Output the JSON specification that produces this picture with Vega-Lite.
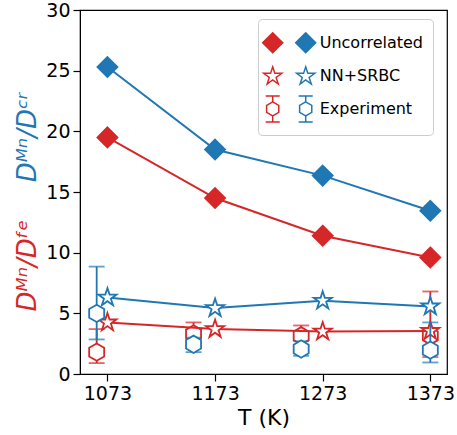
{
  "$schema": "https://vega.github.io/schema/vega-lite/v6.json",
  "width": 367,
  "height": 364,
  "autosize": "none",
  "padding": {"left": 80, "top": 10, "right": 10, "bottom": 61},
  "background": "white",
  "config": {
    "font": "DejaVu Sans",
    "view": {"stroke": "#000000", "strokeWidth": 1.2},
    "axis": {"grid": false, "domainColor": "#000000", "tickColor": "#000000", "tickSize": 7, "tickWidth": 1.2, "labelFont": "DejaVu Sans", "labelFontSize": 19, "labelColor": "#000000", "labelPadding": 3, "titleFont": "DejaVu Sans", "titleFontWeight": "normal"}
  },
  "datasets": {
    "calc": [
      {"T": 1073, "series": "Uncorrelated", "ratio": "Fe", "value": 19.5},
      {"T": 1173, "series": "Uncorrelated", "ratio": "Fe", "value": 14.5},
      {"T": 1273, "series": "Uncorrelated", "ratio": "Fe", "value": 11.4},
      {"T": 1373, "series": "Uncorrelated", "ratio": "Fe", "value": 9.6},
      {"T": 1073, "series": "NN+SRBC", "ratio": "Fe", "value": 4.25},
      {"T": 1173, "series": "NN+SRBC", "ratio": "Fe", "value": 3.7},
      {"T": 1273, "series": "NN+SRBC", "ratio": "Fe", "value": 3.5},
      {"T": 1373, "series": "NN+SRBC", "ratio": "Fe", "value": 3.55},
      {"T": 1073, "series": "Uncorrelated", "ratio": "Cr", "value": 25.3},
      {"T": 1173, "series": "Uncorrelated", "ratio": "Cr", "value": 18.5},
      {"T": 1273, "series": "Uncorrelated", "ratio": "Cr", "value": 16.35},
      {"T": 1373, "series": "Uncorrelated", "ratio": "Cr", "value": 13.45},
      {"T": 1073, "series": "NN+SRBC", "ratio": "Cr", "value": 6.3},
      {"T": 1173, "series": "NN+SRBC", "ratio": "Cr", "value": 5.43},
      {"T": 1273, "series": "NN+SRBC", "ratio": "Cr", "value": 6.04},
      {"T": 1373, "series": "NN+SRBC", "ratio": "Cr", "value": 5.57}
    ],
    "exp": [
      {"T": 1063, "ratio": "Fe", "value": 1.8, "lo": 0.9, "hi": 3.7},
      {"T": 1153, "ratio": "Fe", "value": 3.3, "lo": 2.5, "hi": 4.25},
      {"T": 1253, "ratio": "Fe", "value": 3.15, "lo": 2.3, "hi": 4.0},
      {"T": 1373, "ratio": "Fe", "value": 3.15, "lo": 1.4, "hi": 6.8},
      {"T": 1063, "ratio": "Cr", "value": 5.0, "lo": 2.85, "hi": 8.85},
      {"T": 1153, "ratio": "Cr", "value": 2.45, "lo": 1.8, "hi": 3.0},
      {"T": 1253, "ratio": "Cr", "value": 2.06, "lo": 1.5, "hi": 2.7},
      {"T": 1373, "ratio": "Cr", "value": 1.97, "lo": 0.95, "hi": 4.25}
    ]
  },
  "layer": [
    {
      "layer": [
        {
          "data": {"name": "exp"},
          "transform": [{"filter": "datum.ratio === 'Fe'"}],
          "mark": {"type": "rule", "color": "#d62728", "strokeWidth": 1.8},
          "encoding": {
            "x": {"field": "T", "type": "quantitative", "scale": {"domain": [1047.5, 1388.5], "nice": false, "zero": false}, "axis": {"values": [1073, 1173, 1273, 1373], "format": "d", "title": "T (K)", "titleFontSize": 22, "titleColor": "#000000", "titlePadding": 4}},
            "y": {"field": "lo", "type": "quantitative", "scale": {"domain": [0, 30], "nice": false, "zero": false}, "axis": {"orient": "left", "values": [0, 5, 10, 15, 20, 25, 30], "title": "Dᴹⁿ/Dᶠᵉ", "titleColor": "#d62728", "titleFontSize": 26, "titleFontStyle": "italic", "titleX": -45, "titleY": 255, "titleAngle": -90, "titleBaseline": "alphabetic", "titleAlign": "center"}},
            "y2": {"field": "hi"}
          }
        },
        {
          "data": {"name": "exp"},
          "transform": [{"filter": "datum.ratio === 'Fe'"}],
          "mark": {"type": "tick", "orient": "horizontal", "color": "#d62728", "size": 16, "thickness": 1.8},
          "encoding": {
            "x": {"field": "T", "type": "quantitative"},
            "y": {"field": "lo", "type": "quantitative"}
          }
        },
        {
          "data": {"name": "exp"},
          "transform": [{"filter": "datum.ratio === 'Fe'"}],
          "mark": {"type": "tick", "orient": "horizontal", "color": "#d62728", "size": 16, "thickness": 1.8},
          "encoding": {
            "x": {"field": "T", "type": "quantitative"},
            "y": {"field": "hi", "type": "quantitative"}
          }
        },
        {
          "data": {"name": "exp"},
          "transform": [{"filter": "datum.ratio === 'Fe'"}],
          "mark": {"type": "point", "filled": true, "fill": "white", "stroke": "#d62728", "strokeWidth": 1.8, "opacity": 1, "size": 300, "shape": "M0,-1L0.866,-0.5L0.866,0.5L0,1L-0.866,0.5L-0.866,-0.5Z"},
          "encoding": {
            "x": {"field": "T", "type": "quantitative"},
            "y": {"field": "value", "type": "quantitative"}
          }
        },
        {
          "data": {"name": "calc"},
          "transform": [{"filter": "datum.ratio === 'Fe'"}],
          "mark": {"type": "line", "color": "#d62728", "strokeWidth": 2},
          "encoding": {
            "x": {"field": "T", "type": "quantitative"},
            "y": {"field": "value", "type": "quantitative"},
            "detail": {"field": "series", "type": "nominal"}
          }
        },
        {
          "data": {"name": "calc"},
          "transform": [{"filter": "datum.ratio === 'Fe'"}],
          "mark": {"type": "point", "filled": true, "stroke": "#d62728", "strokeWidth": 1.8, "opacity": 1, "size": 676},
          "encoding": {
            "x": {"field": "T", "type": "quantitative"},
            "y": {"field": "value", "type": "quantitative"},
            "shape": {"field": "series", "type": "nominal", "scale": {"domain": ["Uncorrelated", "NN+SRBC", "Experiment"], "range": ["M0,-0.77L0.77,0L0,0.77L-0.77,0Z", "M0,-0.73L0.164,-0.226L0.694,-0.226L0.265,0.086L0.429,0.591L0,0.279L-0.429,0.591L-0.265,0.086L-0.694,-0.226L-0.164,-0.226Z", "M0,-0.54L0.468,-0.27L0.468,0.27L0,0.54L-0.468,0.27L-0.468,-0.27Z M0,-0.54L0,-1 M-0.54,-1L0.54,-1 M0,0.54L0,1 M-0.54,1L0.54,1"]},
              "legend": {"title": null, "orient": "none", "legendX": 178, "legendY": 9, "direction": "vertical", "padding": 9.7, "rowPadding": 5.6, "symbolSize": 676, "symbolOffset": -9, "labelColor": "#000000", "labelFontSize": 16, "labelFont": "DejaVu Sans", "labelOffset": 33, "strokeColor": "#cccccc", "fillColor": "white", "cornerRadius": 4,
                "encode": {"symbols": {"update": {"stroke": {"value": "#d62728"}, "strokeWidth": {"value": 1.8}, "opacity": {"value": 1}}}}}},
            "fill": {"field": "series", "type": "nominal", "scale": {"domain": ["Uncorrelated", "NN+SRBC", "Experiment"], "range": ["#d62728", "white", "white"]},
              "legend": {"title": null, "orient": "none", "legendX": 178, "legendY": 9, "direction": "vertical", "padding": 9.7, "rowPadding": 5.6, "symbolSize": 676, "symbolOffset": -9, "labelColor": "#000000", "labelFontSize": 16, "labelFont": "DejaVu Sans", "labelOffset": 33, "strokeColor": "#cccccc", "fillColor": "white", "cornerRadius": 4,
                "encode": {"symbols": {"update": {"stroke": {"value": "#d62728"}, "strokeWidth": {"value": 1.8}, "opacity": {"value": 1}}}}}}
          }
        }
      ]
    },
    {
      "layer": [
        {
          "data": {"name": "exp"},
          "transform": [{"filter": "datum.ratio === 'Cr'"}],
          "mark": {"type": "rule", "color": "#1f77b4", "strokeWidth": 1.8},
          "encoding": {
            "x": {"field": "T", "type": "quantitative"},
            "y": {"field": "lo", "type": "quantitative", "scale": {"domain": [0, 30], "nice": false, "zero": false}, "axis": {"orient": "left", "labels": false, "ticks": false, "domain": false, "title": "Dᴹⁿ/Dᶜʳ", "titleColor": "#1f77b4", "titleFontSize": 26, "titleFontStyle": "italic", "titleX": -45, "titleY": 127, "titleAngle": -90, "titleBaseline": "alphabetic", "titleAlign": "center"}},
            "y2": {"field": "hi"}
          }
        },
        {
          "data": {"name": "exp"},
          "transform": [{"filter": "datum.ratio === 'Cr'"}],
          "mark": {"type": "tick", "orient": "horizontal", "color": "#1f77b4", "size": 16, "thickness": 1.8},
          "encoding": {
            "x": {"field": "T", "type": "quantitative"},
            "y": {"field": "lo", "type": "quantitative"}
          }
        },
        {
          "data": {"name": "exp"},
          "transform": [{"filter": "datum.ratio === 'Cr'"}],
          "mark": {"type": "tick", "orient": "horizontal", "color": "#1f77b4", "size": 16, "thickness": 1.8},
          "encoding": {
            "x": {"field": "T", "type": "quantitative"},
            "y": {"field": "hi", "type": "quantitative"}
          }
        },
        {
          "data": {"name": "exp"},
          "transform": [{"filter": "datum.ratio === 'Cr'"}],
          "mark": {"type": "point", "filled": true, "fill": "white", "stroke": "#1f77b4", "strokeWidth": 1.8, "opacity": 1, "size": 300, "shape": "M0,-1L0.866,-0.5L0.866,0.5L0,1L-0.866,0.5L-0.866,-0.5Z"},
          "encoding": {
            "x": {"field": "T", "type": "quantitative"},
            "y": {"field": "value", "type": "quantitative"}
          }
        },
        {
          "data": {"name": "calc"},
          "transform": [{"filter": "datum.ratio === 'Cr'"}],
          "mark": {"type": "line", "color": "#1f77b4", "strokeWidth": 2},
          "encoding": {
            "x": {"field": "T", "type": "quantitative"},
            "y": {"field": "value", "type": "quantitative"},
            "detail": {"field": "series", "type": "nominal"}
          }
        },
        {
          "data": {"name": "calc"},
          "transform": [{"filter": "datum.ratio === 'Cr'"}],
          "mark": {"type": "point", "filled": true, "stroke": "#1f77b4", "strokeWidth": 1.8, "opacity": 1, "size": 676},
          "encoding": {
            "x": {"field": "T", "type": "quantitative"},
            "y": {"field": "value", "type": "quantitative"},
            "shape": {"field": "series", "type": "nominal", "scale": {"domain": ["Uncorrelated", "NN+SRBC", "Experiment"], "range": ["M0,-0.77L0.77,0L0,0.77L-0.77,0Z", "M0,-0.73L0.164,-0.226L0.694,-0.226L0.265,0.086L0.429,0.591L0,0.279L-0.429,0.591L-0.265,0.086L-0.694,-0.226L-0.164,-0.226Z", "M0,-0.54L0.468,-0.27L0.468,0.27L0,0.54L-0.468,0.27L-0.468,-0.27Z M0,-0.54L0,-1 M-0.54,-1L0.54,-1 M0,0.54L0,1 M-0.54,1L0.54,1"]},
              "legend": {"title": null, "orient": "none", "legendX": 202, "legendY": 9, "direction": "vertical", "padding": 9.7, "rowPadding": 5.6, "symbolSize": 676, "labelExpr": "''", "labelOpacity": 0, "labelFontSize": 16, "labelFont": "DejaVu Sans", "labelOffset": -5,
                "encode": {"symbols": {"update": {"stroke": {"value": "#1f77b4"}, "strokeWidth": {"value": 1.8}, "opacity": {"value": 1}}}}}},
            "fill": {"field": "series", "type": "nominal", "scale": {"domain": ["Uncorrelated", "NN+SRBC", "Experiment"], "range": ["#1f77b4", "white", "white"]},
              "legend": {"title": null, "orient": "none", "legendX": 202, "legendY": 9, "direction": "vertical", "padding": 9.7, "rowPadding": 5.6, "symbolSize": 676, "labelExpr": "''", "labelOpacity": 0, "labelFontSize": 16, "labelFont": "DejaVu Sans", "labelOffset": -5,
                "encode": {"symbols": {"update": {"stroke": {"value": "#1f77b4"}, "strokeWidth": {"value": 1.8}, "opacity": {"value": 1}}}}}}
          }
        }
      ]
    }
  ],
  "resolve": {"scale": {"shape": "independent", "fill": "independent", "y": "independent"}, "axis": {"y": "independent"}}
}
